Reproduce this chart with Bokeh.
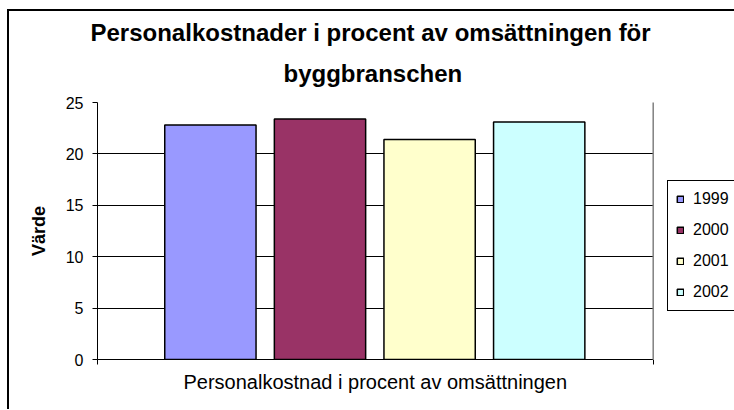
from bokeh.plotting import figure
from bokeh.models import ColumnDataSource, Range1d, FixedTicker, Title, Grid, BoxAnnotation
from bokeh.embed import file_html
from bokeh.resources import INLINE

# ---- data ----
years = ["1999", "2000", "2001", "2002"]
values = [22.8, 23.4, 21.4, 23.1]
colors = ["#9999FF", "#993366", "#FFFFCC", "#CCFFFF"]
y_ticks = [0, 5, 10, 15, 20, 25]
grid_ticks = [5, 10, 15, 20]
title_lines = ["Personalkostnader i procent av omsättningen för", "byggbranschen"]
x_label = "Personalkostnad i procent av omsättningen"
y_label = "Värde"

FONT = "Liberation Sans"
# plot area spans x_start..x_plot_end; the frame continues to x_frame_end under the legend
x_start, x_plot_end, x_frame_end = 1997.97, 2003.04, 2003.80
y_top = 25

src = ColumnDataSource(dict(x=[int(y) for y in years], top=values, color=colors, year=years))

p = figure(width=727, height=400, output_backend="svg", toolbar_location=None,
           x_range=Range1d(x_start, x_frame_end), y_range=Range1d(0, y_top),
           min_border_left=88, min_border_right=0, min_border_top=91, min_border_bottom=52)
p.styles = {"margin-left": "7px", "margin-top": "9px",
            "border-left": "2px solid black", "border-top": "2px solid black"}

p.vbar(x="x", top="top", bottom=0, width=0.833, source=src, fill_color="color",
       line_color="black", line_width=1.5, legend_field="year")

# titles (the added one sits closest to the frame)
p.title.text = title_lines[0]
p.title.align = "left"
p.title.offset = -7
p.title.text_font = FONT
p.title.text_font_size = "24px"
p.title.text_font_style = "bold"
p.title.text_color = "black"
p.title.standoff = -8
p.add_layout(Title(text=title_lines[1], align="left", offset=186, text_font=FONT,
                   text_font_size="24px", text_font_style="bold",
                   text_color="black", standoff=32), "above")

# y axis
p.yaxis.ticker = FixedTicker(ticks=y_ticks)
p.yaxis.major_tick_out = 5
p.yaxis.major_tick_in = 0
p.yaxis.minor_tick_line_color = None
p.yaxis.axis_line_color = "black"
p.yaxis.major_tick_line_color = "black"
p.yaxis.major_label_text_font = FONT
p.yaxis.major_label_text_font_size = "16px"
p.yaxis.major_label_text_color = "black"
p.yaxis.major_label_standoff = 9
p.yaxis.axis_label = y_label
p.yaxis.axis_label_text_font = FONT
p.yaxis.axis_label_text_font_size = "18px"
p.yaxis.axis_label_text_font_style = "bold"
p.yaxis.axis_label_text_color = "black"
p.yaxis.axis_label_standoff = 14

# x axis (limited to the plot area), ticks only at its two ends, no labels
p.xaxis.bounds = (x_start, x_plot_end)
p.xaxis.ticker = FixedTicker(ticks=[x_start, x_plot_end])
p.xaxis.major_label_text_font_size = "0px"
p.xaxis.major_label_text_color = None
p.xaxis.major_tick_out = 5
p.xaxis.major_tick_in = 0
p.xaxis.minor_tick_line_color = None
p.xaxis.axis_line_color = "black"
p.xaxis.major_tick_line_color = "black"

# x axis title, centred under the plot area (not the wider frame)
p.add_layout(Title(text=x_label, align="left", offset=86, text_font=FONT,
                   text_font_size="20px", text_font_style="normal",
                   text_color="black", standoff=9), "below")

# grid
p.xgrid.visible = False
p.ygrid.ticker = FixedTicker(ticks=grid_ticks)
p.ygrid.grid_line_color = "black"
p.ygrid.grid_line_alpha = 1.0
p.add_layout(Grid(dimension=1, ticker=FixedTicker(ticks=[y_top]),
                  grid_line_color="#808080", grid_line_width=1.5))
p.outline_line_color = None

# legend: re-added after the mask so that it is drawn on top
lg = p.legend[0]
p.center.remove(lg)
# white mask right of the plot area; its left edge is the plot area's grey right border
p.add_layout(BoxAnnotation(left=x_plot_end, right=x_frame_end + 1, bottom=-1, top=y_top + 1,
                           fill_color="white", fill_alpha=1.0,
                           line_color="#808080", line_width=1.5, line_alpha=1.0))
p.add_layout(lg, "center")
lg.location = (570, 48)
lg.margin = 0
lg.padding = 8
lg.glyph_width = 8
lg.glyph_height = 8
lg.label_standoff = 9
lg.label_height = 20
lg.label_width = 60
lg.spacing = 11
lg.label_text_font = FONT
lg.label_text_font_size = "16px"
lg.label_text_color = "black"
lg.border_line_color = "black"
lg.border_line_width = 1
lg.border_line_alpha = 1.0
lg.background_fill_alpha = 1.0

open("out.html", "w").write(file_html(p, INLINE))
